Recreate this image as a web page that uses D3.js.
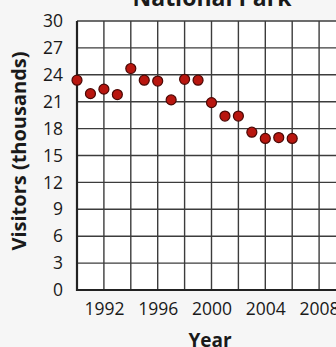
<!DOCTYPE html>
<html>
<head>
<meta charset="utf-8">
<script src="https://cdn.jsdelivr.net/npm/d3@7"></script>
<style>
  html, body { margin: 0; padding: 0; background: #f6f6f6; }
  svg { display: block; }
  text { fill: #1a1a1a; }
</style>
</head>
<body>
<div id="chart"></div>
<script>
// Park visitors per year, in thousands
const years = [1990, 1991, 1992, 1993, 1994, 1995, 1996, 1997, 1998, 1999,
               2000, 2001, 2002, 2003, 2004, 2005, 2006];
const visitors = [23.4, 21.9, 22.4, 21.8, 24.7, 23.4, 23.3, 21.2, 23.5, 23.4,
                  20.9, 19.4, 19.4, 17.6, 16.9, 17.0, 16.9];
const xTicks = [1992, 1996, 2000, 2004, 2008];
const yTicks = [0, 3, 6, 9, 12, 15, 18, 21, 24, 27, 30];
const xGrid = [1990, 1992, 1994, 1996, 1998, 2000, 2002, 2004, 2006, 2008, 2010];

const W = 336, H = 347;
const svg = d3.select("#chart").append("svg").attr("width", W).attr("height", H);

const x = d3.scaleLinear().domain([1990, 2010]).range([77, 346]);
const y = d3.scaleLinear().domain([0, 30]).range([290, 21]);

const font = "'Open Sans', sans-serif";

// plot background
svg.append("rect")
  .attr("x", x(1990)).attr("y", y(30))
  .attr("width", x(2010) - x(1990)).attr("height", y(0) - y(30))
  .attr("fill", "#ffffff");

// grid
const grid = svg.append("g").attr("stroke", "#3c3c3c").attr("stroke-width", 1.4);
grid.selectAll("line.v").data(xGrid).join("line")
  .attr("x1", d => x(d)).attr("x2", d => x(d))
  .attr("y1", y(30)).attr("y2", y(0));
grid.selectAll("line.h").data(yTicks).join("line")
  .attr("x1", x(1990)).attr("x2", x(2010))
  .attr("y1", d => y(d)).attr("y2", d => y(d));

// axis lines
svg.append("line").attr("x1", x(1990)).attr("x2", x(1990))
  .attr("y1", y(30)).attr("y2", y(0) + 1)
  .attr("stroke", "#222").attr("stroke-width", 2.2);
svg.append("line").attr("x1", x(1990) - 1).attr("x2", x(2010))
  .attr("y1", y(0)).attr("y2", y(0))
  .attr("stroke", "#222").attr("stroke-width", 2.2);

// y tick labels
const yAxis = d3.axisLeft(y).tickValues(yTicks).tickSize(0).tickPadding(14);
const gy = svg.append("g").attr("transform", `translate(${x(1990)},0)`).call(yAxis);
gy.select(".domain").remove();
gy.selectAll("text").attr("font-family", font).attr("font-size", 17.5).attr("fill", "#1a1a1a");

// x tick labels
const xAxis = d3.axisBottom(x).tickValues(xTicks).tickFormat(d3.format("d")).tickSize(0).tickPadding(13);
const gx = svg.append("g").attr("transform", `translate(0,${y(0)})`).call(xAxis);
gx.select(".domain").remove();
gx.selectAll("text").attr("font-family", font).attr("font-size", 17.5).attr("fill", "#1a1a1a");

// points
svg.append("g").selectAll("circle").data(years).join("circle")
  .attr("cx", (d, i) => x(d))
  .attr("cy", (d, i) => y(visitors[i]))
  .attr("r", 5)
  .attr("fill", "#b8160f")
  .attr("stroke", "#4a0805")
  .attr("stroke-width", 1.2);

// titles
svg.append("text").attr("x", 212).attr("y", 6)
  .attr("text-anchor", "middle").attr("font-family", font)
  .attr("font-weight", "bold").attr("font-size", 23)
  .text("National Park");

svg.append("text").attr("x", 210).attr("y", 347)
  .attr("text-anchor", "middle").attr("font-family", font)
  .attr("font-weight", "bold").attr("font-size", 19)
  .text("Year");

svg.append("text")
  .attr("transform", "translate(26,151) rotate(-90)")
  .attr("text-anchor", "middle").attr("font-family", font)
  .attr("font-weight", "bold").attr("font-size", 20)
  .text("Visitors (thousands)");
</script>
</body>
</html>
